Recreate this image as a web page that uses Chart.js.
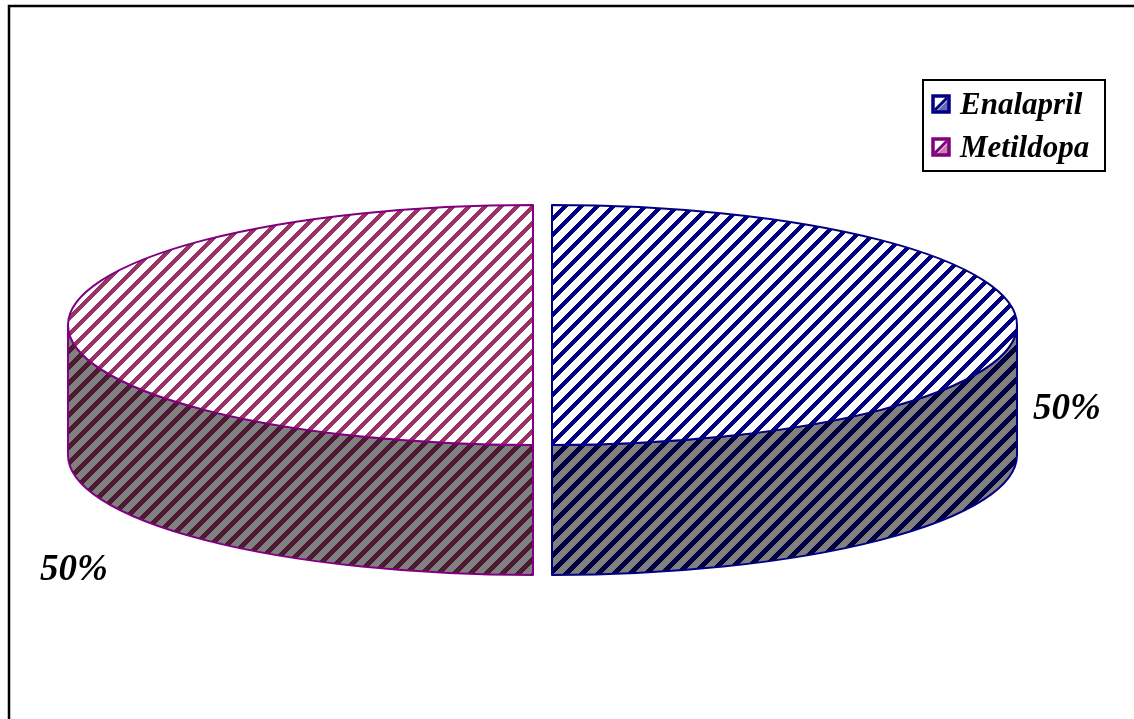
<!DOCTYPE html>
<html>
<head>
<meta charset="utf-8">
<title>Enalapril / Metildopa</title>
<script src="https://cdn.jsdelivr.net/npm/chart.js@4.4.1/dist/chart.umd.min.js"></script>
<style>
  html, body { margin: 0; padding: 0; background: #ffffff; }
  #wrap { position: relative; width: 1134px; height: 719px; overflow: hidden; }
  canvas { display: block; }
</style>
</head>
<body>
<div id="wrap"><canvas id="chart" width="1134" height="719"></canvas></div>
<script>
// ---- data ----
const categories = ['Enalapril', 'Metildopa'];
const values = [50, 50];

// ---- styles ----
const stripeColors = ['#000080', '#993366'];     // stripes on the top faces
const sideStripeColors = ['#000040', '#4d1a33']; // stripes on the shaded walls
const edgeColors = ['#000080', '#800080'];
const FONT = '"Liberation Serif", "Times New Roman", serif';

// ellipse geometry of the tilted pie (screen pixels)
const RX = 465;      // horizontal half-axis
const RY = 120;      // vertical half-axis
const DEPTH = 130;   // wall height
const EXPLODE = 9.5; // slice separation

// crisp upward-diagonal hatch tile
function hatch(bg, fg, period, width) {
  const c = document.createElement('canvas');
  c.width = period; c.height = period;
  const g = c.getContext('2d');
  g.fillStyle = bg;
  g.fillRect(0, 0, period, period);
  g.fillStyle = fg;
  for (let y = 0; y < period; y++) {
    for (let x = 0; x < period; x++) {
      if ((x + y) % period < width) g.fillRect(x, y, 1, 1);
    }
  }
  return c;
}

const ctx0 = document.getElementById('chart').getContext('2d');
const topPatterns = stripeColors.map(c => ctx0.createPattern(hatch('#ffffff', c, 16, 6), 'repeat'));
const sidePatterns = sideStripeColors.map(c => ctx0.createPattern(hatch('#808080', c, 16, 7), 'repeat'));

function sliceGeometry(chart) {
  const meta = chart.getDatasetMeta(0);
  return meta.data.map((el, i) => {
    const p = el.getProps(['x', 'y', 'startAngle', 'endAngle', 'outerRadius'], true);
    const sx = RX / p.outerRadius, sy = RY / p.outerRadius;
    const mid = (p.startAngle + p.endAngle) / 2;
    return {
      i,
      cx: p.x + Math.cos(mid) * EXPLODE,
      cy: p.y + Math.sin(mid) * EXPLODE * (RY / RX),
      rx: p.outerRadius * sx,
      ry: p.outerRadius * sy,
      a0: p.startAngle,
      a1: p.endAngle,
      mid
    };
  });
}

// draws the pie as a tilted, extruded disc using the arc geometry of the chart
const pie3d = {
  id: 'pie3d',
  beforeDatasetsDraw(chart) {
    const ctx = chart.ctx;
    const geo = sliceGeometry(chart);
    ctx.save();
    ctx.lineJoin = 'round';

    // front walls
    geo.forEach(g => {
      const w0 = Math.max(g.a0, 0), w1 = Math.min(g.a1, Math.PI);
      if (w1 <= w0) return;
      ctx.beginPath();
      ctx.ellipse(g.cx, g.cy, g.rx, g.ry, 0, w0, w1, false);
      ctx.lineTo(g.cx + g.rx * Math.cos(w1), g.cy + g.ry * Math.sin(w1) + DEPTH);
      ctx.ellipse(g.cx, g.cy + DEPTH, g.rx, g.ry, 0, w1, w0, true);
      ctx.closePath();
      ctx.fillStyle = sidePatterns[g.i];
      ctx.fill();
      ctx.lineWidth = 2;
      ctx.strokeStyle = edgeColors[g.i];
      ctx.stroke();
    });

    // top faces
    geo.forEach(g => {
      ctx.beginPath();
      ctx.moveTo(g.cx, g.cy);
      ctx.ellipse(g.cx, g.cy, g.rx, g.ry, 0, g.a0, g.a1, false);
      ctx.closePath();
      ctx.fillStyle = topPatterns[g.i];
      ctx.fill();
      ctx.lineWidth = 2;
      ctx.strokeStyle = edgeColors[g.i];
      ctx.stroke();
    });

    // percentage labels
    const total = values.reduce((a, b) => a + b, 0);
    ctx.fillStyle = '#000000';
    ctx.font = 'italic bold 37px ' + FONT;
    ctx.textBaseline = 'alphabetic';
    ctx.textAlign = 'left';
    geo.forEach(g => {
      const txt = Math.round(values[g.i] / total * 100) + '%';
      if (Math.cos(g.mid) > 0) {
        ctx.fillText(txt, g.cx + g.rx + 16, g.cy + DEPTH * 0.72);
      } else {
        ctx.fillText(txt, g.cx - g.rx - 28, g.cy + g.ry + DEPTH + 5);
      }
    });
    ctx.restore();
    return false;
  },
  afterDraw(chart) {
    const ctx = chart.ctx;
    ctx.save();
    // outer frame
    ctx.strokeStyle = '#000000';
    ctx.lineWidth = 2.5;
    ctx.strokeRect(9, 6, 1300, 900);

    // legend
    const lx = 923, ly = 80, lw = 182, lh = 91;
    ctx.fillStyle = '#ffffff';
    ctx.fillRect(lx, ly, lw, lh);
    ctx.lineWidth = 2;
    ctx.strokeRect(lx, ly, lw, lh);
    ctx.font = 'italic bold 31px ' + FONT;
    ctx.textAlign = 'left';
    ctx.textBaseline = 'alphabetic';
    categories.forEach((name, i) => {
      const by = 114 + i * 43;
      const sx = 933, sy = by - 18, s = 16;
      ctx.fillStyle = '#ffffff';
      ctx.fillRect(sx, sy, s, s);
      ctx.fillStyle = stripeColors[i];
      ctx.globalAlpha = 0.6;
      ctx.beginPath();
      ctx.moveTo(sx + s, sy + 3);
      ctx.lineTo(sx + s, sy + s);
      ctx.lineTo(sx + 3, sy + s);
      ctx.closePath();
      ctx.fill();
      ctx.globalAlpha = 1;
      ctx.strokeStyle = edgeColors[i];
      ctx.lineWidth = 3;
      ctx.beginPath();
      ctx.moveTo(sx + 2, sy + s - 2);
      ctx.lineTo(sx + s - 2, sy + 2);
      ctx.stroke();
      ctx.lineWidth = 3.5;
      ctx.strokeRect(sx, sy, s, s);
      ctx.fillStyle = '#000000';
      ctx.fillText(name, 960, by);
    });
    ctx.restore();
  }
};

new Chart(ctx0, {
  type: 'pie',
  data: {
    labels: categories,
    datasets: [{
      data: values,
      backgroundColor: stripeColors,
      borderColor: edgeColors,
      borderWidth: 0
    }]
  },
  options: {
    responsive: false,
    animation: false,
    events: [],
    layout: { padding: { left: 0, right: 49, top: 0, bottom: 69 } },
    plugins: {
      legend: { display: false },
      tooltip: { enabled: false },
      title: { display: false }
    }
  },
  plugins: [pie3d]
});
</script>
</body>
</html>
